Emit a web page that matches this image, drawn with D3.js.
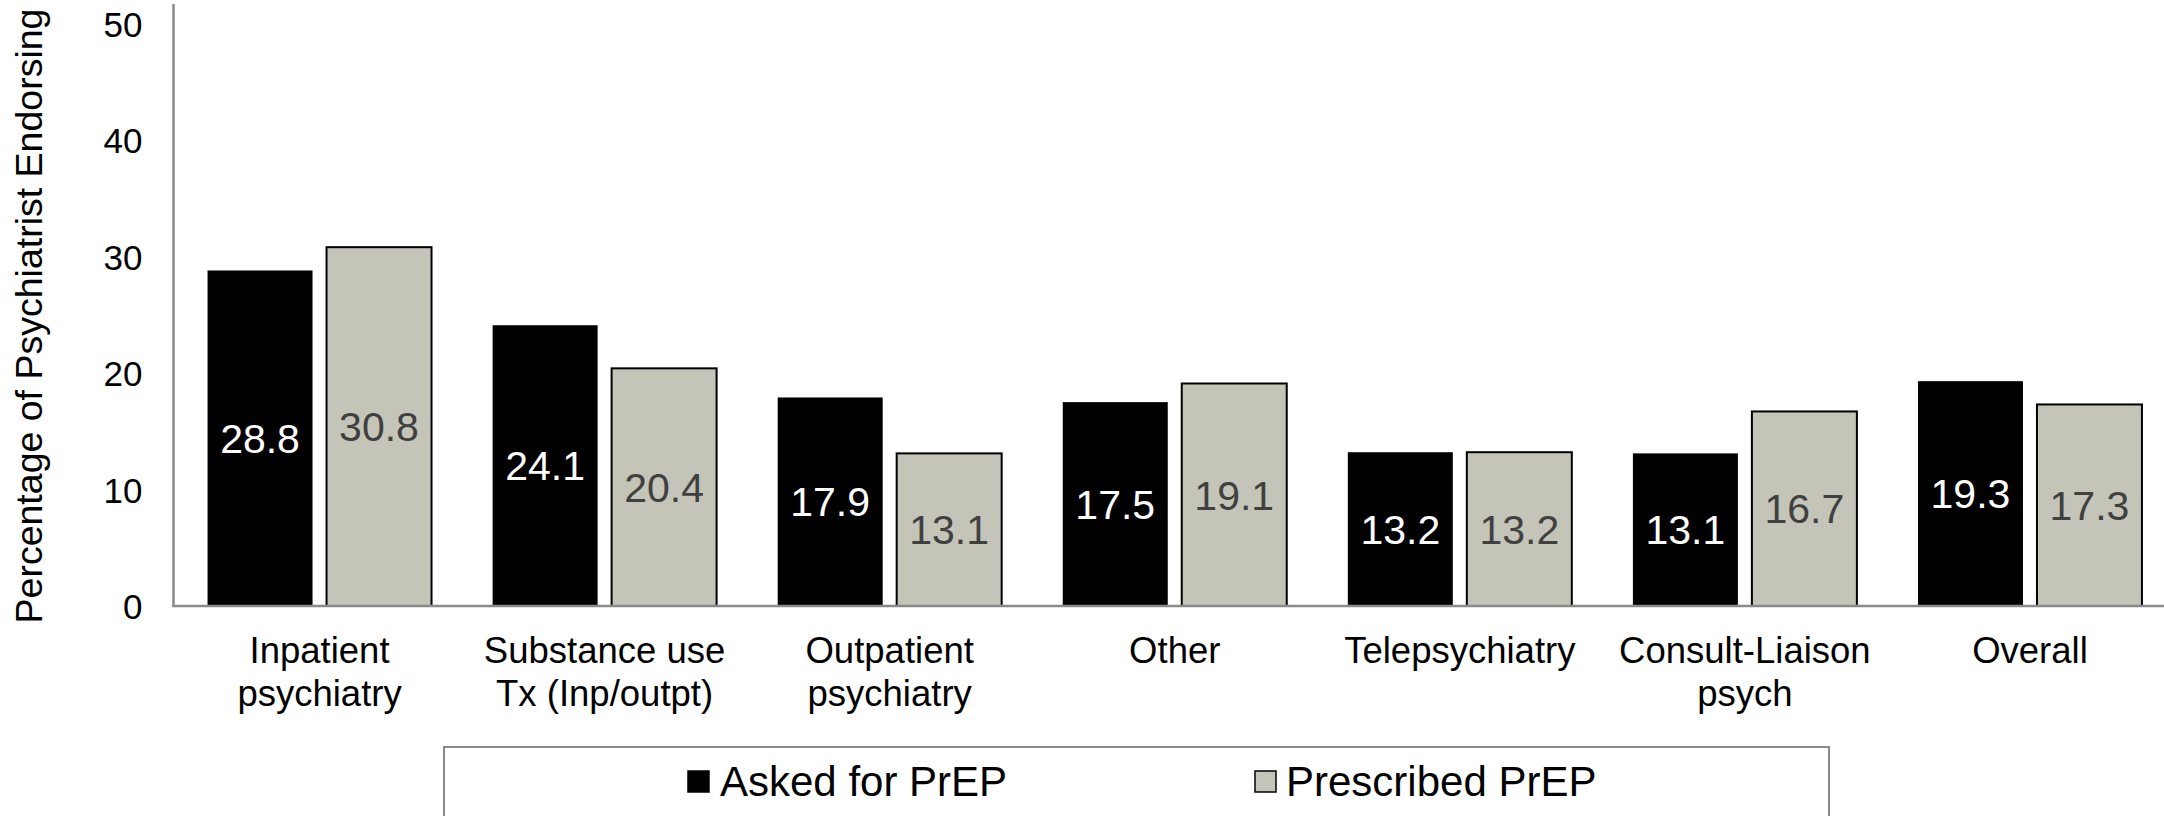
<!DOCTYPE html>
<html>
<head>
<meta charset="utf-8">
<script src="https://cdn.jsdelivr.net/npm/d3@7"></script>
<style>
  html, body { margin: 0; padding: 0; background: #fff; }
  svg { display: block; font-family: "Liberation Sans", Arial, sans-serif; }
</style>
</head>
<body>
<svg id="chart" width="2164" height="816"></svg>
<script>
// Practice settings and the share of psychiatrists endorsing each item
const categories = [
  ["Inpatient", "psychiatry"],
  ["Substance use", "Tx (Inp/outpt)"],
  ["Outpatient", "psychiatry"],
  ["Other"],
  ["Telepsychiatry"],
  ["Consult-Liaison", "psych"],
  ["Overall"]
];
const seriesNames = ["Asked for PrEP", "Prescribed PrEP"];
const askedValues = [28.8, 24.1, 17.9, 17.5, 13.2, 13.1, 19.3];
const prescribedValues = [30.8, 20.4, 13.1, 19.1, 13.2, 16.7, 17.3];
const yTicks = [0, 10, 20, 30, 40, 50];
const yTitle = "Percentage of Psychiatrist Endorsing";

const fills = ["#000000", "#c4c4b8"];
const labelColors = ["#ffffff", "#404040"];

const svg = d3.select("#chart");
const catKeys = categories.map(c => c.join(" "));
const seriesValues = [askedValues, prescribedValues];

const x0 = d3.scaleBand().domain(catKeys).range([177, 2172.5]).paddingInner(0).paddingOuter(0);
const x1 = d3.scaleBand().domain(seriesNames).range([0, x0.bandwidth()])
  .paddingInner(0.1176).paddingOuter(0.2567);
const y = d3.scaleLinear().domain([0, 50]).range([606, 23.5]);

const axisX = 173.5;
const plotTop = 4;

// Bars
catKeys.forEach((cat, i) => {
  seriesNames.forEach((s, j) => {
    const v = seriesValues[j][i];
    const bx = x0(cat) + x1(s);
    svg.append("rect")
      .attr("x", bx)
      .attr("y", y(v))
      .attr("width", x1.bandwidth())
      .attr("height", y(0) - y(v))
      .attr("fill", fills[j])
      .attr("stroke", "#000")
      .attr("stroke-width", j === 0 ? 0 : 2);
    svg.append("text")
      .attr("x", bx + x1.bandwidth() / 2)
      .attr("y", (y(v) + y(0)) / 2)
      .attr("dy", "0.36em")
      .attr("text-anchor", "middle")
      .attr("font-size", 41)
      .attr("fill", labelColors[j])
      .text(v.toFixed(1));
  });
});

// Y axis: labels only, with a plain gray axis line
const yAxis = d3.axisLeft(y).tickValues(yTicks).tickSize(0).tickPadding(31);
const yg = svg.append("g").attr("transform", `translate(${axisX},0)`).call(yAxis);
yg.select(".domain").remove();
yg.selectAll("text")
  .attr("font-size", 35)
  .attr("fill", "#000")
  .attr("font-family", "Liberation Sans, Arial, sans-serif")
  .attr("dy", "0.36em");

svg.append("line")
  .attr("x1", axisX).attr("x2", axisX)
  .attr("y1", plotTop).attr("y2", y(0) + 1)
  .attr("stroke", "#8a8a8a").attr("stroke-width", 2.5);

// X axis baseline
svg.append("line")
  .attr("x1", axisX - 1).attr("x2", 2164)
  .attr("y1", y(0)).attr("y2", y(0))
  .attr("stroke", "#8a8a8a").attr("stroke-width", 2.5);

// Category labels (one or two lines)
catKeys.forEach((cat, i) => {
  const t = svg.append("text")
    .attr("x", x0(cat) + x0.bandwidth() / 2)
    .attr("y", 663)
    .attr("text-anchor", "middle")
    .attr("font-size", 36.5)
    .attr("fill", "#000");
  categories[i].forEach((line, k) => {
    t.append("tspan")
      .attr("x", x0(cat) + x0.bandwidth() / 2)
      .attr("y", 663 + k * 43)
      .text(line);
  });
});

// Y axis title
svg.append("text")
  .attr("transform", "translate(42,316) rotate(-90)")
  .attr("text-anchor", "middle")
  .attr("font-size", 37.5)
  .attr("fill", "#000")
  .text(yTitle);

// Legend
svg.append("rect")
  .attr("x", 444).attr("y", 747)
  .attr("width", 1385).attr("height", 120)
  .attr("fill", "#fff")
  .attr("stroke", "#8a8a8a").attr("stroke-width", 2);

const legendItems = [
  { name: seriesNames[0], fill: fills[0], sx: 688, tx: 720 },
  { name: seriesNames[1], fill: fills[1], sx: 1255, tx: 1286 }
];
legendItems.forEach(d => {
  svg.append("rect")
    .attr("x", d.sx).attr("y", 771)
    .attr("width", 21).attr("height", 21)
    .attr("fill", d.fill)
    .attr("stroke", "#000").attr("stroke-width", 1.5);
  svg.append("text")
    .attr("x", d.tx).attr("y", 795.5)
    .attr("font-size", 42)
    .attr("fill", "#000")
    .text(d.name);
});
</script>
</body>
</html>
